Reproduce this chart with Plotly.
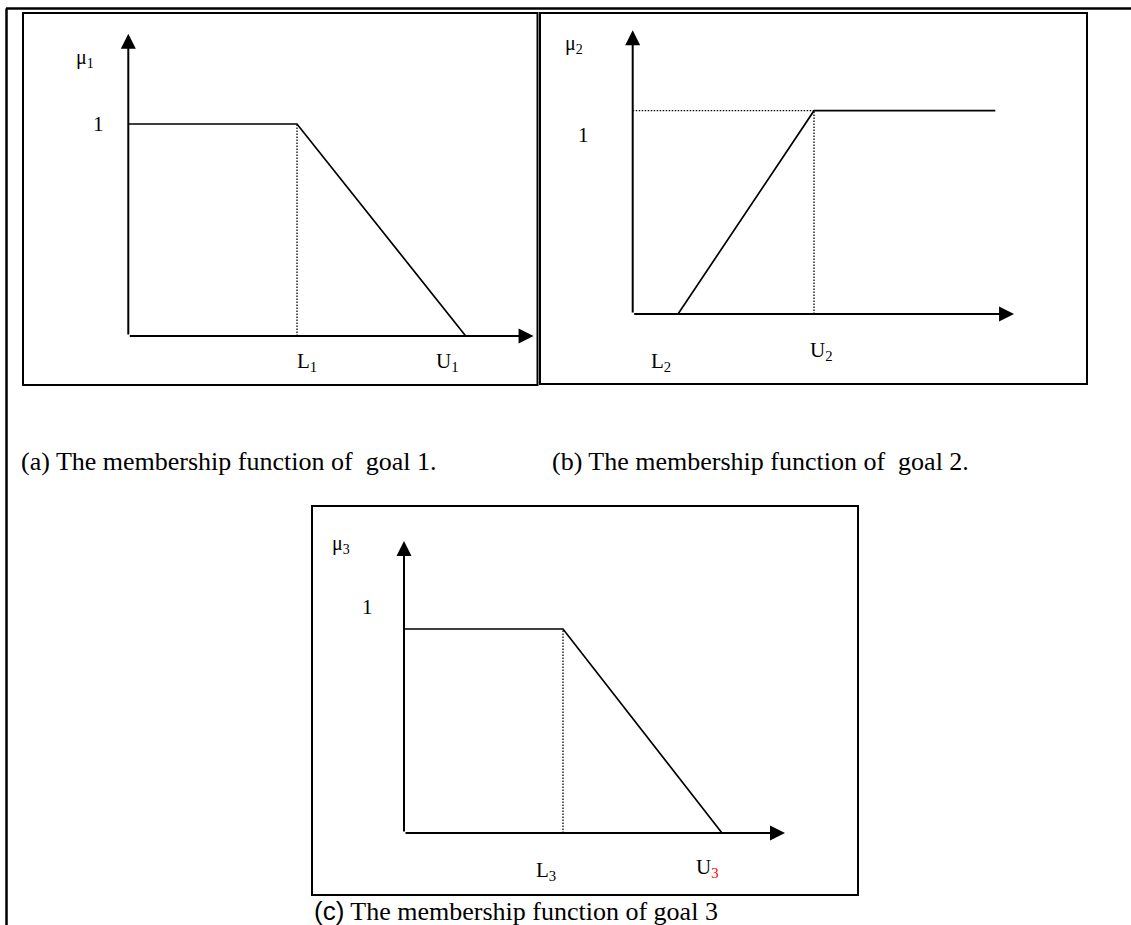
import plotly.graph_objects as go

W, H = 1131, 925

# ---------------- data (arbitrary units) ----------------
# (a) goal 1: flat at 1 until L1, then falls to 0 at U1
goal1_x = [0.0, 1.0, 2.0]          # origin, L1, U1
goal1_mu = [1.0, 1.0, 0.0]
goal1_axis_end = [2.42, 1.44]      # arrow tips (x, mu)

# (b) goal 2: rises from 0 at L2 to 1 at U2, then flat
goal2_x = [0.5, 2.0, 4.0]          # L2, U2, end of flat part
goal2_mu = [0.0, 1.0, 1.0]
goal2_axis_end = [4.24, 1.41]

# (c) goal 3: flat at 1 until L3, then falls to 0 at U3
goal3_x = [0.0, 1.0, 2.0]          # origin, L3, U3
goal3_mu = [1.0, 1.0, 0.0]
goal3_axis_end = [2.415, 1.446]

mu_labels = ["μ<sub>1</sub>", "μ<sub>2</sub>", "μ<sub>3</sub>"]
one_label = "1"
x_labels_a = ["L<sub>1</sub>", "U<sub>1</sub>"]
x_labels_b = ["L<sub>2</sub>", "U<sub>2</sub>"]
x_labels_c = ["L<sub>3</sub>", "U<sub><span style='color:red'>3</span></sub>"]
captions = [
    "(a) The membership function of  goal 1.",
    "(b) The membership function of  goal 2.",
    "<span style='font-family:Liberation Sans, Arial'>(c)</span> The membership function of goal 3",
]

# ---------------- layout geometry (pixels) ----------------
# box (x0, y0, x1, y1), origin (ox, oy), unit px (ux, uy)
panels = [
    dict(box=(23, 13, 537.5, 385), origin=(128.3, 336), unit=(168.7, 212)),
    dict(box=(540, 13, 1087, 384), origin=(632.7, 314), unit=(90.65, 203.3)),
    dict(box=(312, 506, 858, 895), origin=(404, 833), unit=(159, 204)),
]

SERIF = "Liberation Serif, Times New Roman, serif"


def px(x):
    return x / W


def py(y):
    return 1 - y / H


fig = go.Figure()
layout_axes = {}
for i, p in enumerate(panels, start=1):
    x0, y0, x1, y1 = p["box"]
    ox, oy = p["origin"]
    ux, uy = p["unit"]
    sfx = "" if i == 1 else str(i)
    layout_axes["xaxis" + sfx] = dict(
        domain=[px(x0), px(x1)],
        range=[(x0 - ox) / ux, (x1 - ox) / ux],
        visible=False, fixedrange=True, anchor="y" + sfx,
    )
    layout_axes["yaxis" + sfx] = dict(
        domain=[py(y1), py(y0)],
        range=[(oy - y1) / uy, (oy - y0) / uy],
        visible=False, fixedrange=True, anchor="x" + sfx,
    )
fig.update_layout(**layout_axes)

solid = dict(color="black", width=1.7)
dotted = dict(color="black", width=1.3, dash="1.5px,1.5px")

# membership functions
series = [(goal1_x, goal1_mu, "x", "y"), (goal2_x, goal2_mu, "x2", "y2"),
          (goal3_x, goal3_mu, "x3", "y3")]
for xs, ys, xa, ya in series:
    fig.add_trace(go.Scatter(x=xs, y=ys, mode="lines", line=solid,
                             xaxis=xa, yaxis=ya, hoverinfo="skip"))

# dotted guides
fig.add_trace(go.Scatter(x=[goal1_x[1], goal1_x[1]], y=[0, goal1_mu[1]], mode="lines",
                         line=dotted, xaxis="x", yaxis="y", hoverinfo="skip"))
fig.add_trace(go.Scatter(x=[0, goal2_x[1]], y=[goal2_mu[1], goal2_mu[1]], mode="lines",
                         line=dotted, xaxis="x2", yaxis="y2", hoverinfo="skip"))
fig.add_trace(go.Scatter(x=[goal2_x[1], goal2_x[1]], y=[0, goal2_mu[1]], mode="lines",
                         line=dotted, xaxis="x2", yaxis="y2", hoverinfo="skip"))
fig.add_trace(go.Scatter(x=[goal3_x[1], goal3_x[1]], y=[0, goal3_mu[1]], mode="lines",
                         line=dotted, xaxis="x3", yaxis="y3", hoverinfo="skip"))

annotations = []
# axis arrows
for ends, xa, ya in [(goal1_axis_end, "x", "y"), (goal2_axis_end, "x2", "y2"),
                     (goal3_axis_end, "x3", "y3")]:
    for hx, hy in [(ends[0], 0), (0, ends[1])]:
        annotations.append(dict(
            x=hx, y=hy, ax=0, ay=0, xref=xa, yref=ya, axref=xa, ayref=ya,
            text="", showarrow=True, arrowhead=2, arrowsize=1.5, arrowwidth=2,
            arrowcolor="black", standoff=3,
        ))


def label(text, x, y, size=21, anchor="center", color="black", family=SERIF):
    annotations.append(dict(
        x=px(x), y=py(y), xref="paper", yref="paper", text=text, showarrow=False,
        xanchor=anchor, yanchor="middle", font=dict(family=family, size=size, color=color),
    ))


# panel (a)
label(mu_labels[0], 85, 58, size=20)
label(one_label, 98, 124)
label(x_labels_a[0], 307, 362)
label(x_labels_a[1], 447, 362)
# panel (b)
label(mu_labels[1], 574, 45, size=20)
label(one_label, 583, 135)
label(x_labels_b[0], 661, 362)
label(x_labels_b[1], 821, 351)
# panel (c)
label(mu_labels[2], 341, 544, size=20)
label(one_label, 367, 607)
label(x_labels_c[0], 546, 871)
label(x_labels_c[1], 707, 868)
# captions
label(captions[0], 19, 461, size=26, anchor="left")
label(captions[1], 550, 461, size=26, anchor="left")
label(captions[2], 312, 911, size=26, anchor="left")

shapes = []
for p in panels:
    x0, y0, x1, y1 = p["box"]
    shapes.append(dict(type="rect", xref="paper", yref="paper",
                       x0=px(x0), x1=px(x1), y0=py(y1), y1=py(y0),
                       line=dict(color="black", width=2)))
# page frame lines (top and left)
shapes.append(dict(type="line", xref="paper", yref="paper", x0=px(6), x1=px(W),
                   y0=py(8.5), y1=py(8.5), line=dict(color="black", width=2.5)))
shapes.append(dict(type="line", xref="paper", yref="paper", x0=px(6.5), x1=px(6.5),
                   y0=py(8.5), y1=py(H), line=dict(color="black", width=2.5)))

fig.update_layout(
    width=W, height=H, margin=dict(l=0, r=0, t=0, b=0),
    paper_bgcolor="white", plot_bgcolor="rgba(0,0,0,0)",
    showlegend=False, annotations=annotations, shapes=shapes,
)

fig.write_html("out.html", config={"displayModeBar": False, "staticPlot": True},
               post_script="document.body.style.margin='0';")
